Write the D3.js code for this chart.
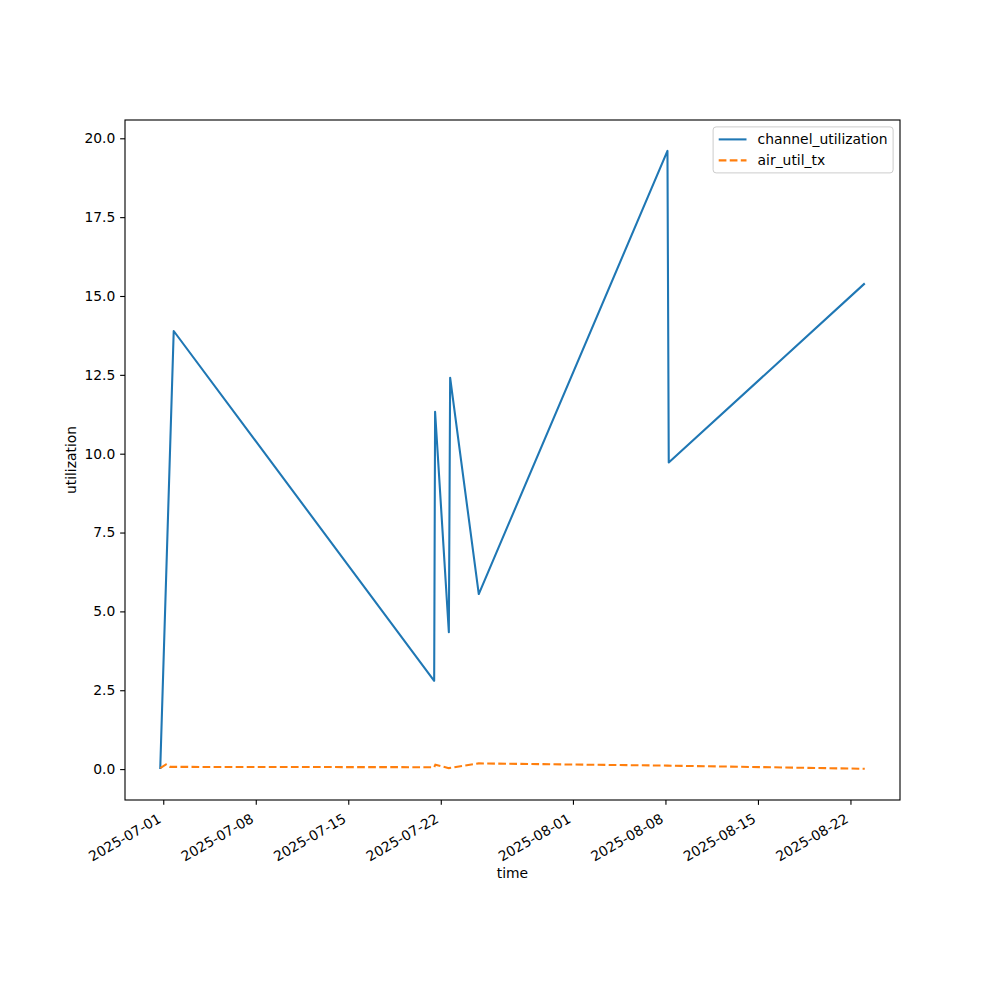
<!DOCTYPE html>
<html>
<head>
<meta charset="utf-8">
<script src="https://cdn.jsdelivr.net/npm/d3@7"></script>
<style>
  body { margin: 0; background: #fff; }
  text { font-family: "DejaVu Sans", sans-serif; }
</style>
</head>
<body>
<div id="chart"></div>
<script>
// channel_utilization samples
const chanTimes = ["2025-06-30T18:30", "2025-07-01T19:00", "2025-07-21T12:00", "2025-07-21T13:40",
    "2025-07-22T14:40", "2025-07-22T17:00", "2025-07-24T21:00", "2025-08-08T03:40",
    "2025-08-08T06:00", "2025-08-23T02:00"];
const chanValues = [0.0, 13.89, 2.80, 11.33, 4.34, 12.41, 5.55, 19.60, 9.72, 15.40];

// air_util_tx samples
const airTimes = ["2025-06-30T18:30", "2025-07-01T05:00", "2025-07-01T12:30", "2025-07-21T12:00",
    "2025-07-21T14:10", "2025-07-22T14:40", "2025-07-24T21:00", "2025-08-08T03:40",
    "2025-08-23T02:00"];
const airValues = [0.03, 0.15, 0.07, 0.06, 0.14, 0.03, 0.18, 0.11, 0.01];

const xTickLabels = ["2025-07-01", "2025-07-08", "2025-07-15", "2025-07-22",
    "2025-08-01", "2025-08-08", "2025-08-15", "2025-08-22"];
const yTickValues = [0, 2.5, 5, 7.5, 10, 12.5, 15, 17.5, 20];

const seriesNames = ["channel_utilization", "air_util_tx"];
const colors = ["#1f77b4", "#ff7f0e"];

const parse = s => new Date(s + ":00Z");

const chan = chanTimes.map((t, i) => ({t: parse(t), v: chanValues[i]}));
const air = airTimes.map((t, i) => ({t: parse(t), v: airValues[i]}));
const all = chan.concat(air);

const W = 1000, H = 1000;
const margin = {top: 120, right: 100, bottom: 200, left: 125};
const width = W - margin.left - margin.right;
const height = H - margin.top - margin.bottom;

// points -> px at 100 dpi
const pt = v => v * 100 / 72;
const fontSize = pt(10) + "px";
const lw = pt(1.5);
const dash = `${pt(5.55)},${pt(2.4)}`;

const svg = d3.select("#chart").append("svg")
    .attr("width", W)
    .attr("height", H);

const g = svg.append("g").attr("transform", `translate(${margin.left}, ${margin.top})`);

// matplotlib-like 5% padding
const tExt = d3.extent(all, d => +d.t);
const tPad = (tExt[1] - tExt[0]) * 0.05;
const vExt = d3.extent(all, d => d.v);
const vPad = (vExt[1] - vExt[0]) * 0.05;

const xScale = d3.scaleUtc()
    .domain([new Date(tExt[0] - tPad), new Date(tExt[1] + tPad)])
    .range([0, width]);

const yScale = d3.scaleLinear()
    .domain([vExt[0] - vPad, vExt[1] + vPad])
    .range([height, 0]);

// x axis
const xAxis = d3.axisBottom(xScale)
    .tickValues(xTickLabels.map(s => parse(s + "T00:00")))
    .tickSize(pt(3.5))
    .tickFormat(d3.utcFormat("%Y-%m-%d"));

const gx = g.append("g")
    .attr("transform", `translate(0, ${height})`)
    .call(xAxis);
gx.select(".domain").remove();
gx.selectAll(".tick line").attr("stroke", "#000").attr("stroke-width", pt(0.8));
gx.selectAll(".tick text")
    .attr("fill", "#000")
    .style("font-size", fontSize)
    .attr("text-anchor", "end")
    .attr("y", 0)
    .attr("dy", 0)
    .attr("transform", "translate(-1.65, 21.5) rotate(-30)");

// y axis
const yAxis = d3.axisLeft(yScale)
    .tickValues(yTickValues)
    .tickSize(pt(3.5))
    .tickPadding(pt(3.5))
    .tickFormat(d3.format(".1f"));

const gy = g.append("g").call(yAxis);
gy.select(".domain").remove();
gy.selectAll(".tick line").attr("stroke", "#000").attr("stroke-width", pt(0.8));
gy.selectAll(".tick text")
    .attr("fill", "#000")
    .style("font-size", fontSize);

// lines
const line = d3.line()
    .x(d => xScale(d.t))
    .y(d => yScale(d.v));

g.append("path")
    .datum(chan)
    .attr("fill", "none")
    .attr("stroke", colors[0])
    .attr("stroke-width", lw)
    .attr("stroke-linejoin", "round")
    .attr("d", line);

g.append("path")
    .datum(air)
    .attr("fill", "none")
    .attr("stroke", colors[1])
    .attr("stroke-width", lw)
    .attr("stroke-dasharray", dash)
    .attr("d", line);

// frame
g.append("rect")
    .attr("x", 0).attr("y", 0)
    .attr("width", width).attr("height", height)
    .attr("fill", "none")
    .attr("stroke", "#000")
    .attr("stroke-width", pt(0.8));

// axis labels
g.append("text")
    .attr("text-anchor", "middle")
    .attr("x", width / 2)
    .attr("y", height + 78)
    .style("font-size", fontSize)
    .text("time");

g.append("text")
    .attr("text-anchor", "middle")
    .attr("transform", `translate(-49, ${height / 2}) rotate(-90)`)
    .style("font-size", fontSize)
    .text("utilization");

// legend
const legW = 180, legH = 46;
const legend = g.append("g")
    .attr("transform", `translate(${width - 6.9 - legW}, 6.9)`);

legend.append("rect")
    .attr("width", legW).attr("height", legH)
    .attr("rx", 3)
    .attr("fill", "#fff")
    .attr("fill-opacity", 0.8)
    .attr("stroke", "#cccccc")
    .attr("stroke-width", 1);

seriesNames.forEach((name, i) => {
    const cy = 12.5 + i * 21;
    legend.append("line")
        .attr("x1", 5.6).attr("x2", 33.4)
        .attr("y1", cy).attr("y2", cy)
        .attr("stroke", colors[i])
        .attr("stroke-width", lw)
        .attr("stroke-dasharray", i === 1 ? dash : null);
    legend.append("text")
        .attr("x", 44.5)
        .attr("y", cy + 5)
        .style("font-size", fontSize)
        .text(name);
});
</script>
</body>
</html>
